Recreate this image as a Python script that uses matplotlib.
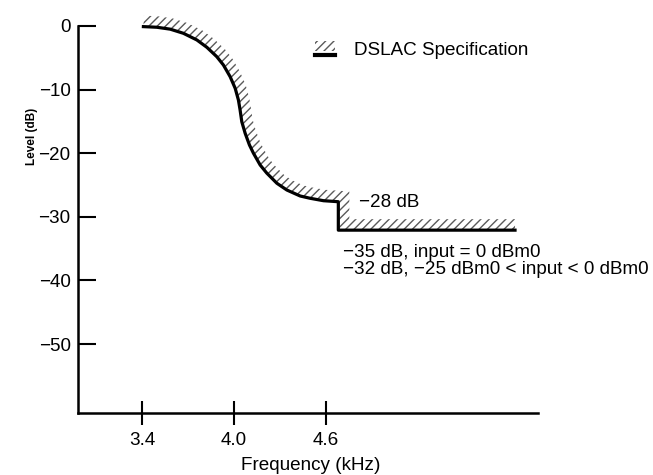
import numpy as np
import matplotlib
matplotlib.use("Agg")
import matplotlib.pyplot as plt
from matplotlib.patches import Polygon, Rectangle
from matplotlib.lines import Line2D
from matplotlib.legend_handler import HandlerBase

# DSLAC specification curve
freq_khz = [3.410, 3.498, 3.585, 3.671, 3.759, 3.824, 3.889, 3.932, 3.976,
            4.009, 4.030, 4.041, 4.052, 4.074, 4.102, 4.128, 4.172, 4.215,
            4.281, 4.346, 4.433, 4.498, 4.585, 4.682, 4.682, 5.835]
level_db = [-0.1, -0.2, -0.5, -1.15, -2.2, -3.35, -4.83, -6.13, -7.97,
            -9.8, -11.64, -13.21, -15.05, -16.87, -18.71, -20.0, -21.86, -23.13,
            -24.73, -25.79, -26.73, -27.09, -27.47, -27.63, -32.1, -32.1]

x_ticks = [3.4, 4.0, 4.6]
x_tick_labels = ["3.4", "4.0", "4.6"]
y_ticks = [0, -10, -20, -30, -40, -50]

plt.rcParams['font.family'] = ['Liberation Sans', 'DejaVu Sans']
plt.rcParams['hatch.linewidth'] = 1.0
FS = 13.6
HATCH_COLOR = '#5a5a5a'

fig = plt.figure(figsize=(6.53, 4.75), dpi=100)
ax = fig.add_axes([0.1187, 0.1305, 0.7052, 0.8148])
ax.set_xlim(2.98, 5.985)
ax.set_ylim(-60.85, 0)

# Axes styling
for side in ['top', 'right']:
    ax.spines[side].set_visible(False)
for side in ['left', 'bottom']:
    ax.spines[side].set_linewidth(1.8)

ax.set_yticks(y_ticks)
ax.set_xticks(x_ticks)
ax.set_xticklabels(x_tick_labels)
ax.tick_params(axis='y', direction='in', length=13, width=1.5, pad=5, labelsize=FS)
ax.tick_params(axis='x', direction='inout', length=17, width=1.5, pad=5, labelsize=FS)

ax.set_xlabel('Frequency (kHz)', fontsize=FS)
ax.xaxis.set_label_coords(0.507, -0.114)
ax.set_ylabel('Level (dB)', fontsize=8.5, fontweight='bold')
ax.yaxis.set_label_coords(-0.086, 0.716)

# Hatched band on the upper/right side of the spec line (offset in pixels)
xy = ax.transData.transform(np.column_stack([freq_khz, level_db]))
seg = np.diff(xy, axis=0)
seg_n = np.column_stack([-seg[:, 1], seg[:, 0]])
seg_n /= np.linalg.norm(seg_n, axis=1)[:, None]

vert_n = np.zeros_like(xy)
vert_n[0] = seg_n[0]
vert_n[-1] = seg_n[-1]
for i in range(1, len(xy) - 1):
    m = seg_n[i - 1] + seg_n[i]
    m /= np.linalg.norm(m)
    vert_n[i] = m / np.dot(m, seg_n[i])

inner = xy + vert_n * 1.0
outer = xy + vert_n * 11.0
band_px = np.vstack([inner, outer[::-1]])
band = ax.transData.inverted().transform(band_px)
ax.add_patch(Polygon(band, closed=True, facecolor='none', edgecolor=HATCH_COLOR,
                     hatch='////', linewidth=0, clip_on=False))

ax.plot(freq_khz, level_db, color='black', lw=2.3, solid_joinstyle='round',
        clip_on=False, zorder=3)

# Annotations
ax.text(4.82, -27.8, '\u221228 dB', fontsize=FS, ha='left', va='center')
ax.text(4.713, -34.2,
        '\u221235 dB, input = 0 dBm0\n\u221232 dB, \u221225 dBm0 < input < 0 dBm0',
        fontsize=FS, ha='left', va='top', linespacing=1.0)


class BandHandler(HandlerBase):
    def create_artists(self, legend, orig_handle, xdescent, ydescent,
                       width, height, fontsize, trans):
        x0, y0 = -xdescent, -ydescent
        patch = Rectangle((x0, y0 + height * 0.35), width, height * 0.75,
                          facecolor='none', edgecolor=HATCH_COLOR, hatch='////',
                          linewidth=0, transform=trans)
        line = Line2D([x0, x0 + width], [y0 + height * 0.05] * 2, color='black',
                      lw=3, transform=trans)
        return [patch, line]


spec_handle = Rectangle((0, 0), 1, 1)
ax.legend([spec_handle], ['DSLAC Specification'], handler_map={Rectangle: BandHandler()},
          loc='upper left', bbox_to_anchor=(0.5157, 0.958), frameon=False,
          fontsize=FS, borderpad=0, borderaxespad=0, handlelength=1.05,
          handletextpad=1.0)

fig.savefig('out.png', dpi=100)
